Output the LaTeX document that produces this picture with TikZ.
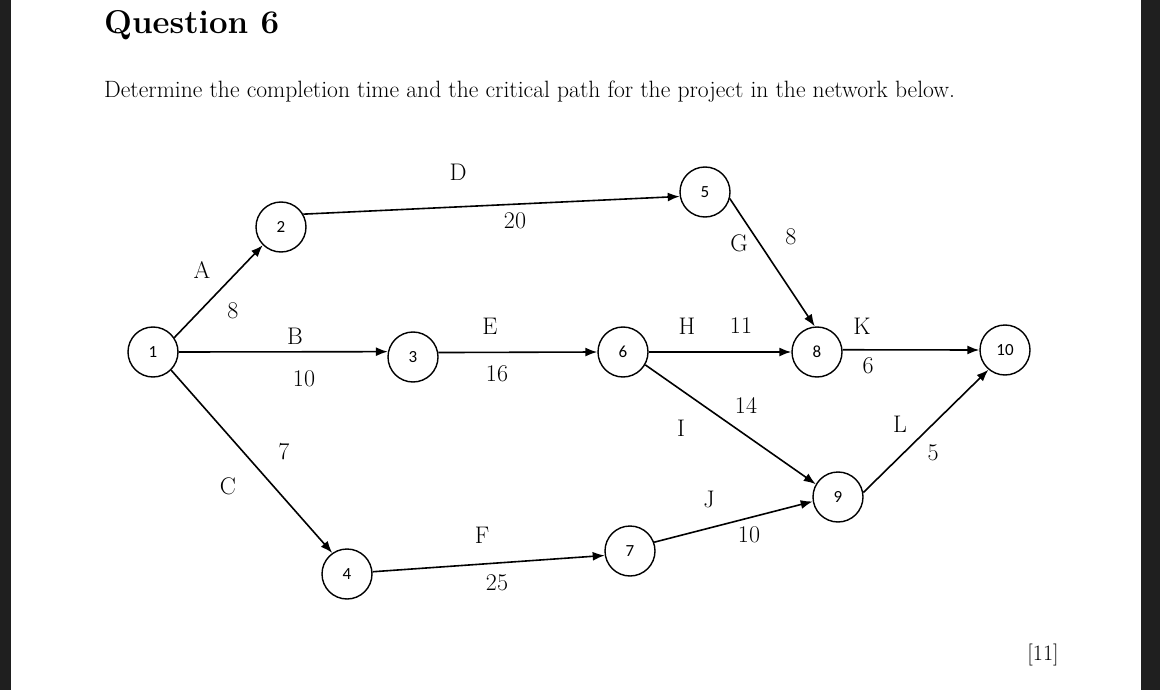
\documentclass[tikz,border=0pt]{standalone}
\usepackage{fontspec}
\newfontfamily\nodefont{Carlito}
\usetikzlibrary{arrows.meta}
\begin{document}
\begin{tikzpicture}[x=1pt,y=-1pt,
  vtx/.style={circle,draw,line width=1.4pt,minimum size=50pt,inner sep=0pt,font=\nodefont\fontsize{17}{17}\selectfont},
  edge/.style={line width=1.6pt,-{Latex[length=12pt,width=9pt]}},
  lab/.style={font=\fontsize{24}{24}\selectfont,inner sep=0pt}]
\useasboundingbox (0,0) rectangle (1160,690);
\fill[black!88] (0,0) rectangle (11,690);
\fill[black!88] (1141,0) rectangle (1160,690);
\node[anchor=west,font=\bfseries\fontsize{33}{33}\selectfont,inner sep=0pt] (title) at (104,25) {Question 6};
\node[anchor=west,font=\fontsize{23.6}{24}\selectfont,inner sep=0pt] (txt) at (104,92) {Determine the completion time and the critical path for the project in the network below.};
\node[font=\fontsize{22}{22}\selectfont,inner sep=0pt] (mk) at (1043,655) {[11]};
\node[vtx] (n1) at (153,352) {1};
\node[vtx] (n2) at (281,227) {2};
\node[vtx] (n3) at (413,357) {3};
\node[vtx] (n4) at (347,574) {4};
\node[vtx] (n5) at (705,192) {5};
\node[vtx] (n6) at (623,352) {6};
\node[vtx] (n7) at (630,551) {7};
\node[vtx] (n8) at (817,352) {8};
\node[vtx] (n9) at (838,497) {9};
\node[vtx] (n10) at (1005,350) {10};
\draw[edge] (n1.34) -- (n2.225);
\draw[edge] (n1.0) -- (n3.168);
\draw[edge] (n1.-45) -- (n4.125);
\draw[edge] (n2.30) -- (n5.190);
\draw[edge] (n3.10) -- (n6.180);
\draw[edge] (n4.5) -- (n7.190);
\draw[edge] (n5.-15) -- (n8.95);
\draw[edge] (n6.0) -- (n8.180);
\draw[edge] (n6.-30) -- (n9.150);
\draw[edge] (n7.20) -- (n9.190);
\draw[edge] (n8.5) -- (n10.180);
\draw[edge] (n9.10) -- (n10.230);
\node[lab] (lD) at (458,172) {D};  \node[lab] (wD) at (515,221) {20};
\node[lab] (lG) at (739,243) {G};  \node[lab] (wG) at (791,237) {8};
\node[lab] (lA) at (202,270) {A};  \node[lab] (wA) at (233,311) {8};
\node[lab] (lB) at (295,336) {B};  \node[lab] (wB) at (304,379) {10};
\node[lab] (lE) at (490,326) {E};  \node[lab] (wE) at (497,374) {16};
\node[lab] (lH) at (687,326) {H};  \node[lab] (wH) at (741,326) {11};
\node[lab] (lK) at (862,326) {K};  \node[lab] (wK) at (868,366) {6};
\node[lab] (lI) at (681,428) {I};  \node[lab] (wI) at (746,405) {14};
\node[lab] (lL) at (900,424) {L};  \node[lab] (wL) at (933,453) {5};
\node[lab] (lC) at (228,486) {C};  \node[lab] (wC) at (284,452) {7};
\node[lab] (lJ) at (709,499) {J};  \node[lab] (wJ) at (749,535) {10};
\node[lab] (lF) at (482,535) {F};  \node[lab] (wF) at (497,583) {25};
\end{tikzpicture}
\end{document}
